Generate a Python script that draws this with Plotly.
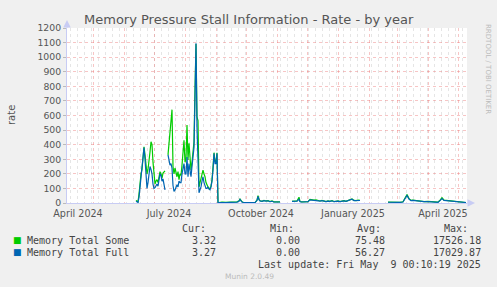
import plotly.graph_objects as go

# ---- data ----
dates = [
    "2024-06-13","2024-06-14","2024-06-15","2024-06-16","2024-06-17","2024-06-18","2024-06-19","2024-06-20",
    "2024-06-21","2024-06-22","2024-06-23","2024-06-24","2024-06-25","2024-06-26","2024-06-27","2024-06-28",
    "2024-06-29","2024-06-30","2024-07-01","2024-07-02","2024-07-03","2024-07-04","2024-07-05","2024-07-06",
    "2024-07-07","2024-07-08","2024-07-09","2024-07-10","2024-07-11","2024-07-12","2024-07-13",
    "2024-07-15","2024-07-16","2024-07-17","2024-07-18","2024-07-19","2024-07-20","2024-07-21","2024-07-22",
    "2024-07-23","2024-07-24","2024-07-25","2024-07-26","2024-07-27","2024-07-28","2024-07-29","2024-07-30",
    "2024-07-31","2024-08-01","2024-08-02","2024-08-03","2024-08-04","2024-08-05","2024-08-06","2024-08-07",
    "2024-08-08","2024-08-09","2024-08-10","2024-08-11","2024-08-12","2024-08-13","2024-08-14","2024-08-15",
    "2024-08-16","2024-08-17","2024-08-18","2024-08-19","2024-08-20","2024-08-21","2024-08-22","2024-08-23",
    "2024-08-24","2024-08-25","2024-08-26","2024-08-27","2024-08-28","2024-08-29","2024-08-30","2024-08-31",
    "2024-09-01","2024-09-02","2024-09-03","2024-09-04","2024-09-07","2024-09-11","2024-09-15","2024-09-19",
    "2024-09-22","2024-09-24","2024-09-25","2024-09-26","2024-09-27","2024-09-29","2024-10-03","2024-10-07",
    "2024-10-10","2024-10-12","2024-10-13","2024-10-14","2024-10-15","2024-10-17","2024-10-19","2024-10-21",
    "2024-10-23","2024-10-25","2024-10-27","2024-10-29","2024-10-31","2024-11-02","2024-11-04","2024-11-05",
    "2024-11-16","2024-11-19","2024-11-21","2024-11-23","2024-11-24","2024-11-26","2024-11-29","2024-12-02",
    "2024-12-04","2024-12-06","2024-12-08","2024-12-10","2024-12-12","2024-12-14","2024-12-16","2024-12-18",
    "2024-12-20","2024-12-22","2024-12-24","2024-12-26","2024-12-28","2024-12-30","2025-01-01","2025-01-03",
    "2025-01-05","2025-01-07","2025-01-09","2025-01-11","2025-01-13","2025-01-15","2025-01-17","2025-01-19",
    "2025-01-21","2025-01-23","2025-01-24",
    "2025-02-20","2025-02-24","2025-02-28","2025-03-04","2025-03-07","2025-03-09","2025-03-11","2025-03-13",
    "2025-03-15","2025-03-17","2025-03-20","2025-03-24","2025-03-28","2025-04-01","2025-04-05","2025-04-09",
    "2025-04-11","2025-04-13","2025-04-15","2025-04-17","2025-04-20","2025-04-23","2025-04-26","2025-04-29",
    "2025-05-02","2025-05-05","2025-05-08","2025-05-09",
]
some = [
    18, 10, 8, 60, 150, 200, 230, 310,
    385, 330, 240, 200, 230, 280, 350, 420,
    400, 280, 180, 130, 150, 160, 140, 190,
    215, 200, 170, 205, 215, 220, None,
    330, 400, 470, 560, 640, 250, 200, 240,
    210, 180, 215, 160, 200, 190, 260, 330,
    430, 280, 300, 535, 295, 410, 300, 225,
    280, 365, 420, 780, 1090, 590, 565, 110,
    140, 160, 200, 225, 200, 180, 140, 120,
    110, 100, 100, 115, 160, 245, 345, 290,
    280, 345, 5, 3, 6, 4, 5, 6,
    8, 15, 27, 18, 8, 2, 1, 1,
    3, 20, 50, 25, 15, 12, 18, 14,
    16, 10, 14, 8, 9, 6, 8, None,
    12, 12, 14, 40, 10, 8, 9, 10,
    25, 22, 20, 22, 16, 14, 18, 12,
    10, 14, 12, 16, 10, 12, 14, 10,
    14, 16, 12, 18, 22, 28, 18, 16,
    20, 18, None,
    6, 5, 3, 4, 8, 30, 58, 30,
    18, 20, 16, 12, 10, 11, 9, 8,
    6, 20, 36, 20, 18, 18, 16, 14,
    7, 6, 5, 3.32,
]
full = [
    12, 5, 4, 40, 120, 170, 220, 300,
    380, 300, 150, 100, 140, 210, 250, 230,
    200, 130, 100, 105, 125, 130, 115, 170,
    200, 190, 150, 165, 120, 90, None,
    330, 290, 260, 270, 240, 120, 80, 90,
    110, 125, 110, 150, 140, 140, 200, 230,
    270, 200, 200, 315, 180, 270, 200, 180,
    250, 340, 380, 720, 1095, 520, 280, 70,
    90, 110, 150, 180, 140, 110, 100, 100,
    110, 95, 90, 110, 150, 225, 340, 270,
    270, 340, 4, 3, 5, 3, 4, 5,
    6, 12, 25, 15, 7, 2, 1, 1,
    3, 18, 45, 22, 14, 11, 16, 13,
    15, 9, 12, 7, 8, 6, 7, None,
    11, 11, 12, 25, 9, 7, 8, 9,
    22, 20, 18, 20, 15, 13, 16, 11,
    9, 13, 11, 15, 9, 11, 13, 9,
    13, 15, 11, 16, 20, 26, 16, 15,
    18, 17, None,
    5, 4, 3, 4, 7, 28, 52, 27,
    16, 18, 15, 11, 9, 10, 8, 7,
    5, 16, 30, 18, 16, 16, 15, 13,
    6, 5, 4, 3.27,
]
series_names = ["Memory Total Some", "Memory Total Full"]
series_colors = ["#00CC00", "#0066B3"]
cur_vals = ["3.32", "3.27"]
min_vals = ["0.00", "0.00"]
avg_vals = ["75.48", "56.27"]
max_vals = ["17526.18", "17029.87"]
y_ticks = list(range(0, 1201, 100))
month_starts = ["2024-04-01","2024-05-01","2024-06-01","2024-07-01","2024-08-01","2024-09-01",
                "2024-10-01","2024-11-01","2024-12-01","2025-01-01","2025-02-01","2025-03-01",
                "2025-04-01","2025-05-01"]
label_pos = ["2024-04-16","2024-07-16","2024-10-16","2025-01-16","2025-04-16"]
label_text = ["April 2024","July 2024","October 2024","January 2025","April 2025"]
x_range = ["2024-04-05", "2025-05-10"]

# ---- geometry ----
W, H = 497, 287
L, R, T, B = 67, 30, 28, 84
PW, PH = W - L - R, H - T - B

def px(x):
    return (x - L) / PW

def py(y):
    return (H - B - y) / PH

fig = go.Figure()
for name, vals, col in zip(series_names, [some, full], series_colors):
    fig.add_trace(go.Scatter(x=dates, y=vals, mode="lines", name=name,
                             line=dict(color=col, width=1.2), connectgaps=False,
                             showlegend=False, hoverinfo="skip"))
# helper trace to anchor the label axis
fig.add_trace(go.Scatter(x=[x_range[0]], y=[None], xaxis="x2", showlegend=False,
                         mode="lines", hoverinfo="skip"))

grid_red = "rgba(235,110,110,0.40)"
grid_gray = "rgba(170,170,170,0.30)"
axis_col = "#C8CCF4"

fig.update_layout(
    width=W, height=H,
    margin=dict(l=L, r=R, t=T, b=B),
    paper_bgcolor="#F0F0F0", plot_bgcolor="#FFFFFF",
    font=dict(family="DejaVu Sans", color="#555555", size=10),
    xaxis=dict(
        type="date", range=x_range,
        tickmode="array", tickvals=month_starts, showticklabels=False, ticks="",
        showgrid=True, gridcolor=grid_red, griddash="dot", gridwidth=1,
        minor=dict(tickmode="linear", tick0="2024-04-08", dtick=7 * 86400000,
                   showgrid=True, gridcolor=grid_gray, griddash="dot", gridwidth=1),
        showline=True, linecolor=axis_col, linewidth=1,
        zeroline=False, fixedrange=True,
    ),
    xaxis2=dict(
        type="date", range=x_range, overlaying="x", anchor="y", side="bottom",
        tickmode="array", tickvals=label_pos, ticktext=label_text,
        tickfont=dict(family="DejaVu Sans", size=9.6, color="#555555"),
        showgrid=False, showline=False, zeroline=False, ticks="", ticklen=0,
        ticklabelstandoff=3, fixedrange=True,
    ),
    yaxis=dict(
        range=[0, 1200], tickmode="array", tickvals=y_ticks,
        tickfont=dict(family="DejaVu Sans", size=9.3, color="#555555"),
        showgrid=True, gridcolor=grid_red, griddash="dot", gridwidth=1,
        showline=True, linecolor=axis_col, linewidth=1,
        ticks="outside", ticklen=3, tickcolor="#BBBBBB",
        zeroline=False, fixedrange=True,
    ),
    showlegend=False,
)

ann = []
# title
ann.append(dict(x=px(249), y=py(19), xref="paper", yref="paper", xanchor="center",
                yanchor="middle", text="Memory Pressure Stall Information - Rate - by year",
                showarrow=False, font=dict(family="DejaVu Sans", size=13, color="#555555")))
# y label
ann.append(dict(x=px(11), y=py(115), xref="paper", yref="paper", text="rate", textangle=-90,
                showarrow=False, xanchor="center", yanchor="middle",
                font=dict(family="DejaVu Sans", size=10, color="#555555")))
# rrdtool credit
ann.append(dict(x=px(488), y=py(22), xref="paper", yref="paper", text="RRDTOOL / TOBI OETIKER",
                textangle=90, showarrow=False, xanchor="center", yanchor="top",
                font=dict(family="DejaVu Sans", size=7, color="#BBBBBB")))
# axis arrows
ann.append(dict(x=px(67), y=py(20), xref="paper", yref="paper", ax=0, ay=9, text="",
                showarrow=True, arrowhead=2, arrowsize=1, arrowwidth=1.5, arrowcolor=axis_col))
ann.append(dict(x=px(475), y=py(203), xref="paper", yref="paper", ax=-9, ay=0, text="",
                showarrow=True, arrowhead=2, arrowsize=1, arrowwidth=1.5, arrowcolor=axis_col))

mono = dict(family="DejaVu Sans Mono", size=10, color="#444444")
for label, xr in zip(["Cur:", "Min:", "Avg:", "Max:"], [208, 296, 383, 470]):
    ann.append(dict(x=px(xr), y=py(228), xref="paper", yref="paper", text=label,
                    showarrow=False, xanchor="right", yanchor="middle", font=mono))
for i, (name, col) in enumerate(zip(series_names, series_colors)):
    yy = 240 + 12 * i
    ann.append(dict(x=px(17), y=py(yy), xref="paper", yref="paper", text="■",
                    showarrow=False, xanchor="center", yanchor="middle",
                    font=dict(family="DejaVu Sans", size=9, color=col)))
    ann.append(dict(x=px(25), y=py(yy), xref="paper", yref="paper", text=name,
                    showarrow=False, xanchor="left", yanchor="middle", font=mono))
    for v, xr in zip([cur_vals[i], min_vals[i], avg_vals[i], max_vals[i]], [218, 302, 387, 483]):
        ann.append(dict(x=px(xr), y=py(yy), xref="paper", yref="paper", text=v,
                        showarrow=False, xanchor="right", yanchor="middle", font=mono))
ann.append(dict(x=px(483), y=py(264), xref="paper", yref="paper",
                text="Last update: Fri May&nbsp; 9 00:10:19 2025",
                showarrow=False, xanchor="right", yanchor="middle", font=mono))
ann.append(dict(x=px(249), y=py(276), xref="paper", yref="paper", text="Munin 2.0.49",
                showarrow=False, xanchor="center", yanchor="middle",
                font=dict(family="DejaVu Sans", size=7.5, color="#BBBBBB")))

fig.update_layout(annotations=ann)
fig.write_html("out.html")
